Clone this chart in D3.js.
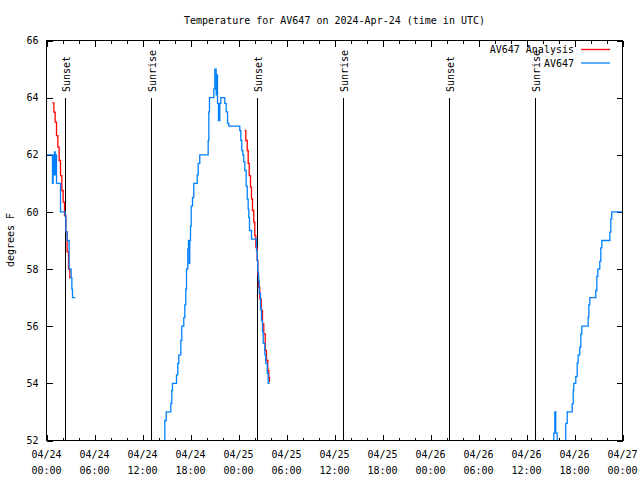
<!DOCTYPE html>
<html><head><meta charset="utf-8">
<script src="https://cdn.jsdelivr.net/npm/d3@7"></script>
<style>
body{margin:0;background:#fff}
text{font-family:"DejaVu Sans Mono","Liberation Mono",monospace;font-size:10px;fill:#000}
</style>
</head><body>
<svg id="c" width="640" height="480"></svg>
<script>
// ---- data (time = hours since 2024-04-24 00:00 UTC, value = degrees F) ----
const titleText = "Temperature for AV647 on 2024-Apr-24 (time in UTC)";
const yLabel = "degrees F";
const seriesNames = ["AV647 Analysis", "AV647"];
const seriesColors = ["#ff0000", "#0080ff"];
const yTicks = [52, 54, 56, 58, 60, 62, 64, 66];
const xMajorHours = [0, 6, 12, 18, 24, 30, 36, 42, 48, 54, 60, 66, 72];
const xMinorHours = [2, 4, 8, 10, 14, 16, 20, 22, 26, 28, 32, 34, 38, 40, 44, 46, 50, 52, 56, 58, 62, 64, 68, 70];
const sunHours = [2.375, 13.125, 26.375, 37.125, 50.375, 61.125];
const sunNames = ["Sunset", "Sunrise", "Sunset", "Sunrise", "Sunset", "Sunrise"];

const analysisA = [[0.75,63.82],[0.92,63.49],[1.08,63.14],[1.25,62.67],[1.42,62.27],[1.58,61.8],[1.75,61.27],[1.92,60.75],[2.08,60.34],[2.25,59.87],[2.42,59.3],[2.58,58.6],[2.75,58.0],[2.92,57.7],[3.08,57.7]];
const analysisB = [[24.79,62.85],[24.91,62.5],[25.09,62.15],[25.21,61.7],[25.34,61.27],[25.5,60.87],[25.625,60.46],[25.75,60.05],[25.91,59.64],[26.04,59.17],[26.16,58.77],[26.34,58.3],[26.41,57.8],[26.5,57.37],[26.66,56.96],[26.84,56.55],[27.0,56.08],[27.16,55.73],[27.34,55.15],[27.5,54.8],[27.66,54.45],[27.79,54.2],[27.875,54.05]];
const obsA = [[0.0,62.0],[0.75,61.0],[0.83,62.0],[0.92,61.3],[1.0,62.1],[1.08,61.3],[1.17,62.0],[1.25,61.0],[1.75,60.0],[2.33,59.85],[2.42,59.3],[2.58,59.0],[2.83,58.0],[3.08,57.7],[3.17,57.3],[3.25,57.0],[3.6,57.0]];
const obsB = [[14.6,51.0],[14.79,52.7],[14.96,53.0],[15.54,53.3],[15.66,53.75],[15.75,54.0],[16.25,54.3],[16.41,54.7],[16.54,55.0],[16.79,55.5],[16.91,56.0],[17.16,56.3],[17.29,56.75],[17.41,57.3],[17.5,58.0],[17.66,58.7],[17.75,59.0],[17.84,58.2],[17.91,59.0],[18.0,59.5],[18.09,60.2],[18.25,60.5],[18.41,61.0],[18.84,61.3],[18.96,61.7],[19.16,62.0],[20.21,62.5],[20.29,63.5],[20.37,64.0],[20.91,64.3],[21.04,65.0],[21.21,64.1],[21.29,64.8],[21.375,63.8],[21.5,63.2],[21.66,63.8],[21.79,64.0],[22.29,63.8],[22.46,63.5],[22.63,63.1],[22.79,63.0],[24.16,62.85],[24.29,62.5],[24.41,62.15],[24.54,62.0],[24.66,61.75],[24.79,61.45],[24.96,60.9],[25.09,60.45],[25.21,60.1],[25.29,59.8],[25.375,59.35],[25.625,59.05],[26.25,58.65],[26.34,58.3],[26.41,57.9],[26.5,57.6],[26.59,57.15],[26.75,56.6],[26.875,56.2],[27.0,55.8],[27.09,55.4],[27.29,55.0],[27.41,54.7],[27.59,54.35],[27.71,54.0],[27.91,54.0]];
const obsC = [[63.31,51.0],[63.41,52.26],[63.54,53.0],[63.66,52.26],[63.84,51.0],[64.91,52.6],[65.09,53.0],[65.71,53.28],[65.84,53.75],[65.91,54.0],[66.16,54.24],[66.34,54.72],[66.46,55.0],[66.66,55.27],[66.79,55.73],[66.91,56.0],[67.71,56.32],[67.79,56.75],[67.91,57.0],[68.66,57.25],[68.79,57.74],[68.91,58.0],[69.16,58.27],[69.29,58.74],[69.41,59.0],[70.41,59.29],[70.54,59.76],[70.66,60.0],[72.0,60.0]];

// ---- drawing ----
const t0 = Date.UTC(2024, 3, 24, 0, 0);
const toDate = h => new Date(t0 + h * 3600e3);
const L = 46.5, R = 622.5, T = 40.5, B = 440.5;
const x = d3.scaleUtc().domain([toDate(0), toDate(72)]).range([L, R]);
const y = d3.scaleLinear().domain([52, 66]).range([B, T]);
const svg = d3.select("#c");

svg.append("defs").append("clipPath").attr("id", "clip")
  .append("rect").attr("x", L).attr("y", T).attr("width", R - L).attr("height", B - T);

// title
svg.append("text").attr("x", (L + R) / 2).attr("y", 23.5).attr("text-anchor", "middle").text(titleText);
// y label
svg.append("text").attr("transform", "translate(13.5,240) rotate(-90)").attr("text-anchor", "middle").text(yLabel);

function styleAxis(g) {
  g.select(".domain").remove();
  g.selectAll(".tick line").attr("stroke", "#000").attr("shape-rendering", "crispEdges");
}
// major/minor x ticks (bottom and top)
svg.append("g").attr("transform", `translate(0,${B})`)
  .call(d3.axisBottom(x).tickValues(xMajorHours.map(toDate)).tickSize(-6).tickFormat(""))
  .call(styleAxis);
svg.append("g").attr("transform", `translate(0,${B})`)
  .call(d3.axisBottom(x).tickValues(xMinorHours.map(toDate)).tickSize(-3).tickFormat(""))
  .call(styleAxis);
svg.append("g").attr("transform", `translate(0,${T})`)
  .call(d3.axisTop(x).tickValues(xMajorHours.map(toDate)).tickSize(-6).tickFormat(""))
  .call(styleAxis);
svg.append("g").attr("transform", `translate(0,${T})`)
  .call(d3.axisTop(x).tickValues(xMinorHours.map(toDate)).tickSize(-3).tickFormat(""))
  .call(styleAxis);
// y ticks left and right
svg.append("g").attr("transform", `translate(${L},0)`)
  .call(d3.axisLeft(y).tickValues(yTicks).tickSize(-6).tickPadding(8).tickFormat(d3.format("d")))
  .call(styleAxis);
svg.append("g").attr("transform", `translate(${R},0)`)
  .call(d3.axisRight(y).tickValues(yTicks).tickSize(-6).tickFormat(""))
  .call(styleAxis);
svg.selectAll("g.tick text").attr("font-family", null).attr("font-size", null);

// x labels two lines
const fmtDay = d3.utcFormat("%m/%d"), fmtTime = d3.utcFormat("%H:%M");
const xl = svg.append("g");
xMajorHours.forEach(h => {
  const t = xl.append("text").attr("x", x(toDate(h))).attr("text-anchor", "middle");
  t.append("tspan").attr("x", x(toDate(h))).attr("y", 458).text(fmtDay(toDate(h)));
  t.append("tspan").attr("x", x(toDate(h))).attr("y", 474).text(fmtTime(toDate(h)));
});

// sun lines
const sg = svg.append("g");
sunHours.forEach((h, i) => {
  const sx = Math.round(x(toDate(h)) - 0.5) + 0.5;
  sg.append("line").attr("x1", sx).attr("x2", sx).attr("y1", y(64)).attr("y2", B)
    .attr("stroke", "#000").attr("stroke-width", 1).attr("shape-rendering", "crispEdges");
  sg.append("text").attr("transform", `translate(${sx + 4},92) rotate(-90)`).text(sunNames[i]);
});

// data lines
const line = d3.line().x(d => x(toDate(d[0]))).y(d => y(d[1])).curve(d3.curveStepAfter);
const dg = svg.append("g").attr("clip-path", "url(#clip)");
[[analysisA, 0], [analysisB, 0], [obsA, 1], [obsB, 1], [obsC, 1]].forEach(([d, s]) => {
  dg.append("path").datum(d).attr("d", line).attr("fill", "none")
    .attr("stroke", seriesColors[s]).attr("stroke-width", 1.3);
});

// legend
seriesNames.forEach((n, i) => {
  const ly = 49.5 + i * 13.5;
  svg.append("text").attr("x", 574).attr("y", ly + 3.5).attr("text-anchor", "end").text(n);
  svg.append("line").attr("x1", 581).attr("x2", 610).attr("y1", ly).attr("y2", ly)
    .attr("stroke", seriesColors[i]).attr("stroke-width", 1.3);
});

// border
svg.append("rect").attr("x", L).attr("y", T).attr("width", R - L).attr("height", B - T)
  .attr("fill", "none").attr("stroke", "#000").attr("shape-rendering", "crispEdges");
</script>
</body></html>
